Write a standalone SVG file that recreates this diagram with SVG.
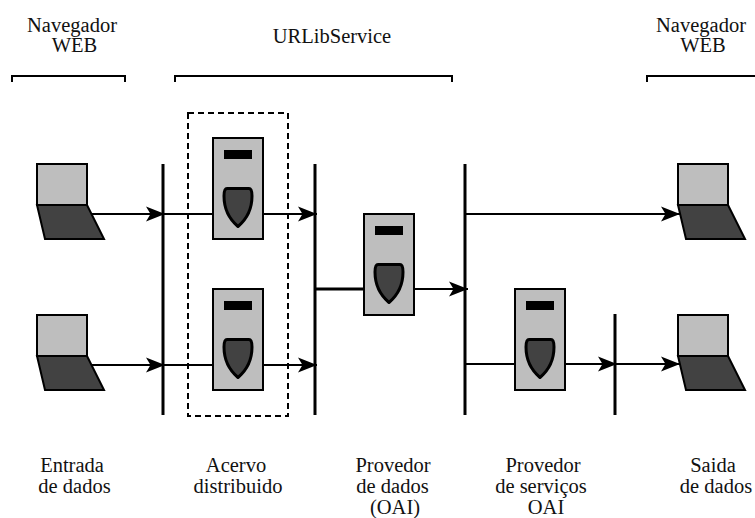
<svg xmlns="http://www.w3.org/2000/svg" width="755" height="518" viewBox="0 0 755 518">
<style>
text{font-family:"Liberation Serif","Times New Roman",serif;font-size:20.500px;fill:#111;text-anchor:middle}
.c{fill:none;stroke:#000;stroke-width:2}
.t{fill:none;stroke:#000;stroke-width:3}
.v{fill:none;stroke:#000;stroke-width:3}
.b{fill:none;stroke:#000;stroke-width:2}
.l{fill:#bebebe;stroke:#000;stroke-width:2}
.d{fill:#424242;stroke:#000;stroke-width:2}
.s{fill:#424242;stroke:#000;stroke-width:3;stroke-linejoin:round}
</style>
<defs>
<marker id="a" markerUnits="userSpaceOnUse" markerWidth="20" markerHeight="16" refX="19" refY="8" orient="auto"><path d="M0 0.500L19 8L0 15.500L4.500 8Z" fill="#000"/></marker>
<g id="laptop"><rect class="l" x="0" y="0" width="50" height="41"/><path class="d" d="M0 41H50L67 75H8Z"/></g>
<g id="server"><rect class="l" x="0" y="0" width="50" height="101"/><rect x="11" y="12" width="28" height="9" fill="#000"/><path class="s" d="M14 50.500H36C38 50.500 39 52 39 58C39 68 35 80 25 88.500C15 80 11 68 11 58C11 52 12 50.500 14 50.500Z"/></g>
</defs>
<g id="connectors">
<path class="c" d="M92 214H165" marker-end="url(#a)"/>
<path class="c" d="M163 214H213M263 214H317" marker-end="url(#a)"/>
<path class="c" d="M92 365H165" marker-end="url(#a)"/>
<path class="c" d="M163 365H213M263 365H317" marker-end="url(#a)"/>
<path class="t" d="M315 289H364"/>
<path class="c" d="M414 289H468" marker-end="url(#a)"/>
<path class="c" d="M465 214H680" marker-end="url(#a)"/>
<path class="c" d="M465 364H514"/>
<path class="c" d="M566 364H617" marker-end="url(#a)"/>
<path class="c" d="M615 364H680" marker-end="url(#a)"/>
</g>
<g id="buses">
<path class="v" d="M163 164V415M315 164V415M465 164V415M615 314V415"/>
</g>
<g id="acervo"><rect x="188" y="113" width="100" height="303" fill="none" stroke="#000" stroke-width="2" stroke-dasharray="6 4"/></g>
<g id="brackets">
<path class="b" d="M12 82V76H125V82"/>
<path class="b" d="M175 82V76H452V82"/>
<path class="b" d="M647 82V76H755"/>
</g>
<g id="laptop-in-1"><use href="#laptop" x="37" y="164"/></g>
<g id="laptop-in-2"><use href="#laptop" x="37" y="315"/></g>
<g id="server-1"><use href="#server" x="213" y="138"/></g>
<g id="server-2"><use href="#server" x="213" y="289"/></g>
<g id="server-3"><use href="#server" x="364" y="214"/></g>
<g id="server-4"><use href="#server" x="515" y="289"/></g>
<g id="laptop-out-1"><use href="#laptop" x="678" y="164"/></g>
<g id="laptop-out-2"><use href="#laptop" x="678" y="315"/></g>
<g id="labels">
<text x="72" y="32">Navegador</text><text x="74.500" y="52">WEB</text>
<text x="332" y="43">URLibService</text>
<text x="701" y="32">Navegador</text><text x="703" y="52">WEB</text>
<text x="72" y="472">Entrada</text><text x="74.500" y="493">de dados</text>
<text x="236" y="472">Acervo</text><text x="238" y="493">distribuido</text>
<text x="393" y="472">Provedor</text><text x="392.500" y="493">de dados</text><text x="395" y="514">(OAI)</text>
<text x="543" y="472">Provedor</text><text x="541" y="493">de serviços</text><text x="546" y="514">OAI</text>
<text x="713" y="472">Saida</text><text x="716" y="493">de dados</text>
</g>
</svg>
